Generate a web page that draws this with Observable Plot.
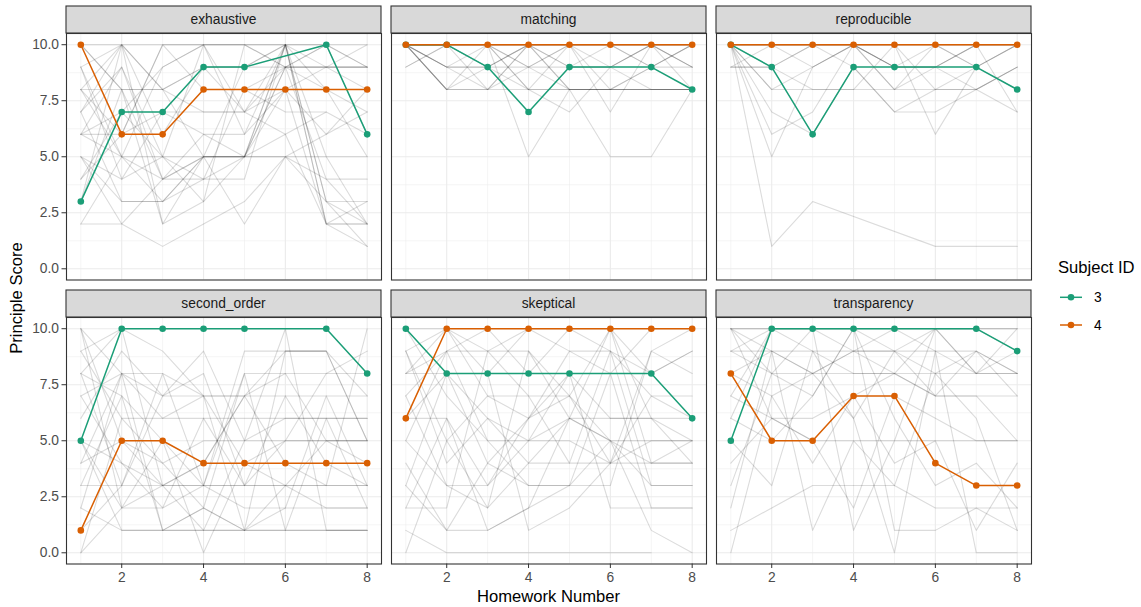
<!DOCTYPE html>
<html><head><meta charset="utf-8">
<script src="https://cdn.jsdelivr.net/npm/d3@7"></script>
<script src="https://cdn.jsdelivr.net/npm/@observablehq/plot@0.6"></script>
<style>
html,body{margin:0;padding:0;background:#fff;}
#chart{position:relative;width:1141px;height:607px;font-family:"Liberation Sans",Arial,sans-serif;overflow:hidden;background:#fff;}
#chart svg{position:absolute;overflow:visible;}
.ttl{position:absolute;white-space:nowrap;font-size:16.6px;color:#000;line-height:1;}
</style></head><body><div id="chart"></div>
<script>
// ---------------- data ----------------
const homeworks = [1, 2, 3, 4, 5, 6, 7, 8];
const principles = ["exhaustive", "matching", "reproducible", "second_order", "skeptical", "transparency"];
const subjectIds = ["3", "4"];
const subjectColors = ["#1b9e77", "#d95f02"];

// highlighted subjects, one row per principle (null = not submitted)
const subject3Scores = [
  [3, 7, 7, 9, 9, null, 10, 6],
  [10, 10, 9, 7, 9, null, 9, 8],
  [10, 9, 6, 9, 9, null, 9, 8],
  [5, 10, 10, 10, 10, null, 10, 8],
  [10, 8, 8, 8, 8, null, 8, 6],
  [5, 10, 10, 10, 10, null, 10, 9]
];
const subject4Scores = [
  [10, 6, 6, 8, 8, 8, 8, 8],
  [10, 10, 10, 10, 10, 10, 10, 10],
  [10, 10, 10, 10, 10, 10, 10, 10],
  [1, 5, 5, 4, 4, 4, 4, 4],
  [6, 10, 10, 10, 10, 10, 10, 10],
  [8, 5, 5, 7, 7, 4, 3, 3]
];

// other subjects (grey background lines)
const othersExhaustive = [
  [8, 10, 10, 10, 10, 10, 9, 9], [9, 5, 3, 5, 5, 10, 2, 3], [6, 7, 5, 3, 5, 8, 2, 2],
  [5, 3, 3, 5, 5, 5, 4, 2], [7, 10, 8, 9, 7, 9, 10, 6], [10, 8, 4, 5, 5, 10, 8, 7],
  [4, 6, 10, 8, 8, 9, 10, 9], [2, 5, 9, 10, 7, 10, 3, 1], [8, 8, 8, 7, 7, 6, 7, 6],
  [9, 4, 7, 6, 5, 9, 8, 5], [5, 2, 1, 2, 3, 5, 6, 8], [6, 9, 5, 4, 4, 10, 10, 9],
  [3, 8, 2, 5, 9, 10, 5, 2], [7, 3, 3, 4, 8, 7, 7, null], [10, 10, 6, 9, 9, 10, 2, 2],
  [8, 5, 5, 5, 5, 5, 5, 5], [4, 7, 9, 10, 6, 8, 9, 9], [9, 10, 2, 3, 10, 9, 4, 4],
  [6, 6, 7, 7, 7, 8, 6, 7], [5, 4, 5, 10, 10, 9, 9, 10], [7, 9, 4, 5, 2, 5, 3, 3],
  [2, 2, 4, 6, 6, 10, 10, 10], [10, 8, 8, 5, 5, 6, 2, 1], [8, 6, 10, 10, 10, 10, 3, 2],
  [3, 10, 8, 9, 9, 9, 9, 8], [6, 5, 4, 4, 5, 9, 9, 9]
];
const othersMatching = [
  [10, 8, 8, 10, 9, 9, 10, 9], [10, 10, 10, 10, 8, 8, 8, 8], [10, 9, 9, 8, 8, 8, 8, 8],
  [9, 10, 10, 9, 10, 10, 10, 10], [10, 10, 10, 5, 8, 8, 9, 10], [10, 9, 8, 10, 10, 7, 10, 9],
  [10, 10, 9, 9, 10, 10, 10, 10], [10, 8, 10, 10, 8, 5, 5, 8], [10, 10, 10, 10, 9, 10, 9, 10],
  [10, 9, 10, 8, 7, 9, 10, 10], [10, 10, 9, 10, 10, 10, 10, 10], [10, 10, 10, 9, 9, 9, 8, 8],
  [10, 8, 9, 10, 10, 10, 10, 9], [10, 10, 10, 10, 10, 10, 10, 10], [10, 10, 8, 8, 8, 8, 9, 10],
  [9, 10, 10, 10, 10, 9, 10, 10], [10, 10, 10, 10, 10, 10, 9, 9], [10, 9, 9, 10, 10, 8, 8, 8],
  [10, 10, 10, 8, 10, 10, 10, 8], [10, 8, 8, 9, 8, 8, 8, 8]
];
const othersReproducible = [
  [9, 10, 10, 10, 8, 10, 9, 10], [10, 5, 9, 10, 10, 8, 8, 9], [10, 1, 3, null, null, 1, 1, 1],
  [10, 6, 7, 10, 9, 9, 10, 10], [10, 7, 6, 9, 7, 7, 8, 7], [9, 9, 8, 8, 10, 10, 10, 10],
  [10, 10, 10, 10, 8, 9, 8, 9], [10, 8, 8, 8, 8, 8, 8, 9], [10, 10, 9, 10, 10, 6, 9, 10],
  [10, 10, 10, 10, 9, 10, 10, 7], [10, 9, 10, 10, 10, 10, 10, 10], [10, 10, 10, 9, 7, 8, 9, 8],
  [10, 10, 10, 10, 10, 10, 10, 10], [10, 8, 9, 10, 10, 10, 9, 10], [9, 9, 10, 10, 9, 9, 10, 10],
  [10, 10, 10, 10, 9, 9, 10, 10]
];
const othersSecondOrder = [
  [10, 8, 8, 7, 7, 7, 7, 7], [10, 5, 3, 3, 3, 3, 3, 3], [8, 10, 9, 7, 1, 9, 9, 5],
  [0, 2, 3, 4, 7, 8, 5, 5], [5, 4, 3, 1, 1, 2, 2, 2], [7, 8, 1, 2, 1, 1, 1, 1],
  [3, 3, 3, 3, 3, 3, 3, 3], [9, 6, 6, 6, 6, 6, 6, 6], [2, 1, 1, 2, 1, 3, 5, 4],
  [1, 3, 8, 3, 9, 9, 9, 7], [6, 9, 7, 9, 5, 10, 1, 1], [8, 7, 5, 0, 4, 5, 8, 9],
  [10, 2, 2, 3, 8, 8, 8, 8], [4, 5, 4, 5, 5, 5, 5, 5], [5, 1, 1, 1, 5, 6, 6, 6],
  [2, 8, 6, 7, 4, 3, 2, 2], [7, 4, 2, 6, 3, 7, 4, 3], [9, 10, 3, 4, 7, 4, 3, 10],
  [3, 7, 1, 1, 1, 1, 1, 1], [5, 2, 5, 3, 2, 2, 7, 3], [0, 6, 4, 2, 8, 1, 6, 2],
  [8, 3, 7, 8, 3, 5, 5, 5], [4, 8, 7, 7, 7, 9, 9, 5]
];
const othersSkeptical = [
  [9, 10, 9, 10, 9, 9, 8, 9], [8, 8, 6, 4, 6, 5, 4, 4], [7, 9, 5, 3, 3, 5, 3, 3],
  [5, 3, 2, 4, 4, 4, 4, 4], [1, 0, 0, 0, 0, 0, 0, null], [3, 8, 4, 6, 8, 6, 6, 5],
  [6, 6, 1, 2, 3, 8, 2, 2], [9, 4, 6, 5, 6, 5, 5, 5], [2, 2, 9, 9, 7, 4, 9, 8],
  [10, 7, 5, 5, 5, 4, 5, 5], [4, 1, 1, 2, 6, 6, 6, 6], [8, 10, 8, 10, 10, 10, 6, 4],
  [0, 5, 7, 7, 4, 9, 7, 6], [7, 3, 3, 6, 7, 5, 1, 0], [5, 9, 10, 8, 10, 9, 3, 3],
  [9, 5, 2, 9, 6, 10, 8, 9], [3, 1, 4, 3, 3, 3, 9, 10], [6, 8, 8, 1, 2, 4, 7, 7],
  [10, 10, 7, 6, 9, 8, 10, 10], [2, 6, 3, 5, 8, 2, 2, 2], [8, 9, 9, 7, 7, 10, 4, 5]
];
const othersTransparency = [
  [10, 10, 10, 10, 10, 10, 10, 10], [9, 9, 9, 9, 9, 9, 9, 8], [10, 8, 8, 8, 8, 8, 8, 8],
  [9, 10, 9, 8, 8, 7, 7, 7], [7, 6, 5, 2, 7, 6, 5, 5], [3, 8, 10, 1, 5, 10, 8, 10],
  [2, 9, 1, 5, 3, 8, 6, 1], [1, 2, 3, 3, 3, 2, 2, 2], [0, 7, 8, 6, 0, 9, 0, 0],
  [6, 5, 7, 10, 6, 3, 4, 2], [8, 7, 4, 7, 8, 10, 10, 9], [10, 9, 8, 9, 10, 9, 8, 8],
  [5, 3, 9, 6, 9, 7, 9, 7], [4, 6, 6, 7, 4, 5, 1, 4], [10, 10, 10, 10, 10, 10, 10, 10],
  [9, 8, 7, 10, 1, 1, 2, 1], [6, 10, 10, 9, 8, 7, 7, 5], [10, 6, 5, 5, 5, 5, 5, 5],
  [8, 9, 8, 9, 9, 8, 9, 8], [7, 10, 10, 10, 9, 10, 8, 9]
];
const otherScores = [othersExhaustive, othersMatching, othersReproducible, othersSecondOrder, othersSkeptical, othersTransparency];

const yTicks = [0, 2.5, 5, 7.5, 10];
const yMinor = [1.25, 3.75, 6.25, 8.75];
const xTicks = [2, 4, 6, 8];
const xMinor = [1, 3, 5, 7];

// ---------------- layout ----------------
const FONT = '"Liberation Sans", Arial, sans-serif';
const chart = document.getElementById("chart");
const colLeft = [66, 391, 716];
const rowTop = [33, 316.5];
const PW = 315, PH = 246.5, STRIP = 27;
const mL = 45, mR = 4, mT = STRIP + 2, mB = 30;
const SMALL = "13.8px";

function stripMark(label) {
  return (index, scales, values, dim) => {
    const g = d3.create("svg:g");
    const x0 = dim.marginLeft, x1 = dim.width - dim.marginRight;
    const yb = dim.marginTop;
    g.append("rect").attr("x", x0).attr("y", yb - STRIP).attr("width", x1 - x0).attr("height", STRIP)
      .attr("fill", "#d9d9d9").attr("stroke", "#333333").attr("stroke-width", 1.1);
    g.append("text").attr("x", (x0 + x1) / 2).attr("y", yb - STRIP / 2).attr("dy", "0.35em")
      .attr("text-anchor", "middle").attr("fill", "#1a1a1a").style("font-size", SMALL).text(label);
    return g.node();
  };
}

function toRows(id, vals) {
  const rows = [];
  vals.forEach((v, h) => { if (v != null) rows.push({id, hw: homeworks[h], score: v}); });
  return rows;
}

principles.forEach((p, i) => {
  const col = i % 3, row = Math.floor(i / 3);
  const others = otherScores[i].flatMap((vals, s) => toRows("o" + s, vals));
  const hl = toRows(subjectIds[0], subject3Scores[i]).concat(toRows(subjectIds[1], subject4Scores[i]));
  const marks = [
    Plot.ruleY(yMinor, {stroke: "#ebebeb", strokeWidth: 0.55}),
    Plot.ruleX(xMinor, {stroke: "#ebebeb", strokeWidth: 0.55}),
    Plot.ruleY(yTicks, {stroke: "#ebebeb", strokeWidth: 1.1}),
    Plot.ruleX(xTicks, {stroke: "#ebebeb", strokeWidth: 1.1}),
    Plot.line(others, {x: "hw", y: "score", z: "id", stroke: "#000", strokeOpacity: 0.14, strokeWidth: 1.1}),
    Plot.line(hl, {x: "hw", y: "score", z: "id", stroke: "id", strokeWidth: 1.5}),
    Plot.dot(hl, {x: "hw", y: "score", fill: "id", r: 3.3}),
    Plot.frame({stroke: "#333333", strokeWidth: 1.1}),
    stripMark(p)
  ];
  if (col === 0) marks.push(Plot.axisY({ticks: yTicks, tickFormat: d3.format(".1f"), tickSize: 4.5, tickPadding: 3,
    fill: "#4d4d4d", stroke: "#333333", fontSize: SMALL, label: null}));
  if (row === 1) marks.push(Plot.axisX({ticks: xTicks, tickFormat: d3.format("d"), tickSize: 4.5, tickPadding: 4,
    fill: "#4d4d4d", stroke: "#333333", fontSize: SMALL, label: null}));
  const svg = Plot.plot({
    width: mL + PW + mR, height: mT + PH + mB,
    marginLeft: mL, marginRight: mR, marginTop: mT, marginBottom: mB,
    x: {domain: [0.65, 8.35], axis: null},
    y: {domain: [-0.5, 10.5], axis: null},
    color: {domain: subjectIds, range: subjectColors},
    style: {fontFamily: FONT, fontSize: SMALL, background: "transparent", maxWidth: "none"},
    marks
  });
  svg.style.left = (colLeft[col] - mL) + "px";
  svg.style.top = (rowTop[row] - mT) + "px";
  chart.appendChild(svg);
});

// axis titles
const xt = document.createElement("div");
xt.className = "ttl"; xt.textContent = "Homework Number";
xt.style.left = "548.5px"; xt.style.top = "597px"; xt.style.transform = "translate(-50%,-50%)";
chart.appendChild(xt);
const yt = document.createElement("div");
yt.className = "ttl"; yt.textContent = "Principle Score";
yt.style.left = "17px"; yt.style.top = "298px"; yt.style.transform = "translate(-50%,-50%) rotate(-90deg)";
chart.appendChild(yt);

// legend
const leg = d3.create("svg").attr("width", 90).attr("height", 90)
  .style("left", "1050px").style("top", "250px").style("font-family", FONT);
leg.append("text").attr("x", 8).attr("y", 17).attr("dy", "0.35em").style("font-size", "16.6px").attr("fill", "#000").text("Subject ID");
subjectIds.forEach((id, k) => {
  const y = 47.3 + k * 27.7;
  leg.append("line").attr("x1", 10).attr("x2", 32).attr("y1", y).attr("y2", y).attr("stroke", subjectColors[k]).attr("stroke-width", 1.5);
  leg.append("circle").attr("cx", 21).attr("cy", y).attr("r", 3.3).attr("fill", subjectColors[k]);
  leg.append("text").attr("x", 44).attr("y", y).attr("dy", "0.35em").style("font-size", SMALL).attr("fill", "#000").text(id);
});
chart.appendChild(leg.node());
</script></body></html>
